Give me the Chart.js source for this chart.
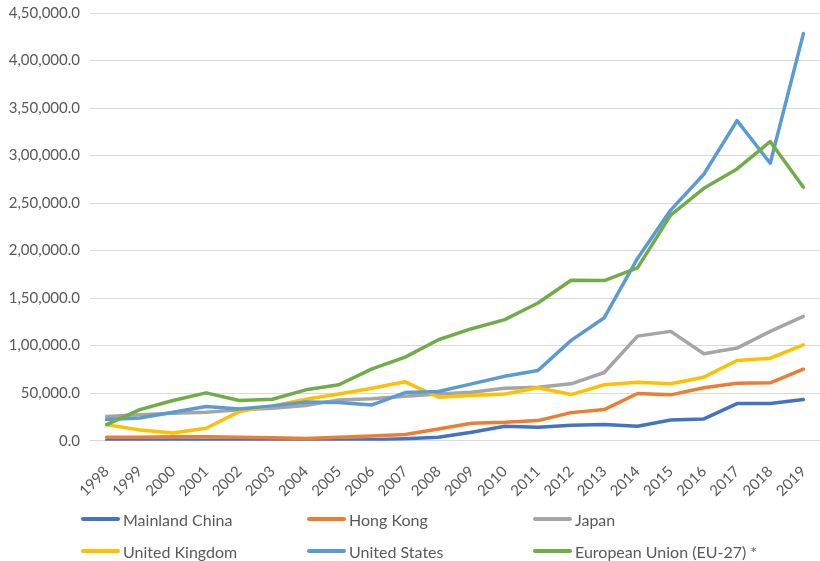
<!DOCTYPE html>
<html>
<head>
<meta charset="utf-8">
<script src="https://cdn.jsdelivr.net/npm/chart.js@4/dist/chart.umd.min.js"></script>
<style>
  html, body { margin: 0; padding: 0; background: #ffffff; }
  #wrap { position: relative; width: 820px; height: 561px; overflow: hidden; }
  #c { position: absolute; left: 0; top: 0; }
  .lg { position: absolute; height: 20px; display: flex; align-items: center;
        font-family: Lato, "Open Sans", sans-serif; font-size: 16px; color: #595959; white-space: nowrap; }
  .lg .sw { width: 39px; height: 4px; border-radius: 2px; margin-right: 3px; }
</style>
</head>
<body>
<div id="wrap">
  <canvas id="c" width="820" height="561"></canvas>
</div>
<script>
// ---- data ----
const years = ['1998','1999','2000','2001','2002','2003','2004','2005','2006','2007','2008',
               '2009','2010','2011','2012','2013','2014','2015','2016','2017','2018','2019'];
const seriesNames = ['Mainland China', 'Hong Kong', 'Japan', 'United Kingdom', 'United States', 'European Union (EU-27) *'];
const mainlandChina = [500, 500, 600, 500, 500, 300, 200, 500, 1000, 2100, 3500,
                       8800, 15100, 14000, 16100, 16900, 15100, 21800, 22900, 39000, 39100, 43200];
const hongKong = [3500, 3700, 4200, 4000, 3500, 3000, 2300, 3500, 5000, 6500, 12300,
                  18300, 19300, 21100, 29500, 32700, 49600, 48200, 55600, 60500, 60900, 75200];
const japan = [25300, 27400, 28800, 29900, 32400, 34100, 36900, 42900, 44000, 46700, 49200,
               51000, 55200, 56300, 59800, 71700, 110000, 115000, 91400, 97400, 115000, 130800];
const unitedKingdom = [16900, 11300, 8100, 13000, 30600, 36600, 43600, 49200, 55200, 61900, 45700,
                       47500, 49200, 55600, 48500, 58800, 61500, 59800, 66800, 84400, 86800, 100900];
const unitedStates = [22200, 23900, 29900, 35900, 33400, 36600, 40800, 40100, 37600, 50600, 51700,
                      59800, 67800, 73800, 105500, 129400, 191700, 242600, 280300, 336800, 291900, 428300];
const europeanUnion = [16900, 32700, 42200, 50300, 42200, 43600, 53500, 58800, 75600, 87900, 106200,
                       117800, 127300, 144800, 168800, 168500, 181800, 237300, 265500, 285900, 314700, 266600];
const yMin = 0, yMax = 450000, yStep = 50000;

// ---- styles ----
const colors = ['#4472C4', '#ED7D31', '#A5A5A5', '#FFC000', '#5B9BD5', '#70AD47'];
const allSeries = [mainlandChina, hongKong, japan, unitedKingdom, unitedStates, europeanUnion];
const textColor = '#595959';
const fontFamily = 'Lato, "Open Sans", sans-serif';

function indianFormat(v) {
  const s = Math.round(v).toString();
  let last3 = s.slice(-3);
  let rest = s.slice(0, -3);
  if (rest) last3 = ',' + last3;
  rest = rest.replace(/\B(?=(\d{2})+(?!\d))/g, ',');
  return rest + last3 + '.0';
}

const datasets = seriesNames.map((name, i) => ({
  label: name,
  data: allSeries[i],
  borderColor: colors[i],
  backgroundColor: colors[i],
  borderWidth: 3.5,
  pointRadius: 0,
  pointHoverRadius: 0,
  tension: 0,
  fill: false,
  borderCapStyle: 'round',
  borderJoinStyle: 'round',
  order: seriesNames.length - i
}));

new Chart(document.getElementById('c'), {
  type: 'line',
  data: { labels: years, datasets: datasets },
  options: {
    responsive: false,
    animation: false,
    layout: { padding: { top: 13, left: 4, right: -2, bottom: 39 } },
    plugins: { legend: { display: false }, tooltip: { enabled: false } },
    scales: {
      x: {
        offset: true,
        grid: { display: false, drawTicks: false },
        border: { display: false },
        ticks: {
          color: textColor,
          font: { family: fontFamily, size: 15 },
          minRotation: 45, maxRotation: 45,
          padding: 22,
          autoSkip: false
        },
        afterFit: (axis) => { axis.paddingLeft = 0; axis.paddingRight = 0; }
      },
      y: {
        min: yMin, max: yMax,
        grid: { color: '#D9D9D9', lineWidth: 1, drawTicks: false },
        border: { display: false },
        ticks: {
          stepSize: yStep,
          color: textColor,
          font: { family: fontFamily, size: 15 },
          padding: 10,
          callback: (v) => indianFormat(v)
        },
        afterFit: (axis) => { axis.width = 86; axis.paddingTop = 0; axis.paddingBottom = 0; }
      }
    }
  }
});

// ---- legend (HTML) ----
const wrap = document.getElementById('wrap');
const colX = [81, 307, 533];
const rowY = [519, 551];
seriesNames.forEach((name, i) => {
  const d = document.createElement('div');
  d.className = 'lg';
  d.style.left = colX[i % 3] + 'px';
  d.style.top = (rowY[Math.floor(i / 3)] - 10) + 'px';
  const sw = document.createElement('span');
  sw.className = 'sw';
  sw.style.background = colors[i];
  const t = document.createElement('span');
  t.textContent = name;
  d.appendChild(sw);
  d.appendChild(t);
  wrap.appendChild(d);
});
</script>
</body>
</html>
